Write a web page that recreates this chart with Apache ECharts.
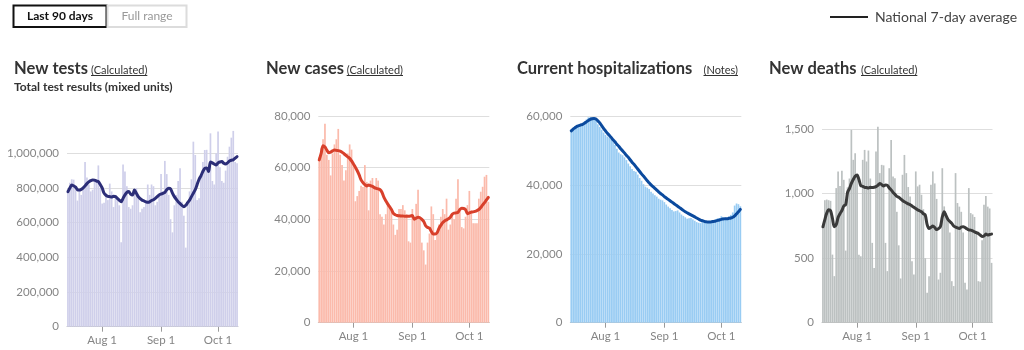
<!DOCTYPE html>
<html><head><meta charset="utf-8">
<script src="https://cdn.jsdelivr.net/npm/echarts@6/dist/echarts.min.js"></script>
<style>html,body{margin:0;padding:0;background:#fff}#c{width:1024px;height:350px}</style>
</head><body><div id="c"></div>
<script>
// ---------- DATA ----------
const firstDay = '2020-07-14';
const dayCount = 90;
const tickLabels = ['Aug 1', 'Sep 1', 'Oct 1'];

const testsDaily = [780000,830000,850000,848000,800000,727000,790000,
 760000,800000,950000,860000,820000,780000,790000,
 840000,850000,930000,800000,710000,715000,770000,
 730000,825000,780000,690000,760000,740000,700000,
 487000,935000,895000,810000,690000,680000,700000,
 790000,800000,760000,660000,680000,690000,720000,
 820000,760000,820000,810000,700000,720000,760000,
 880000,780000,956000,880000,760000,620000,544000,
 700000,760000,840000,913000,720000,640000,456000,
 720000,780000,850000,1067000,990000,730000,740000,
 860000,950000,1019000,1020000,900000,1115000,840000,
 820000,1000000,1125000,920000,840000,830000,900000,
 980000,1038000,1090000,1129000,950000,942000];
const testsAvg = [779000,800000,817000,812000,805000,790000,788000,
 792000,800000,812000,825000,835000,842000,846000,
 845000,840000,836000,820000,800000,770000,758000,
 752000,750000,748000,752000,750000,740000,730000,
 721000,740000,760000,775000,779000,765000,760000,
 788000,770000,750000,738000,730000,725000,720000,
 717000,720000,728000,732000,740000,750000,760000,
 765000,769000,775000,790000,798000,795000,770000,
 750000,735000,721000,710000,700000,692000,700000,
 715000,730000,750000,770000,790000,820000,850000,
 870000,895000,913000,915000,895000,950000,945000,
 938000,933000,945000,950000,952000,942000,938000,
 945000,955000,960000,962000,972000,981000];

const casesDaily = [64000,67500,71000,77000,65000,63000,57000,
 65500,69000,71000,75000,65000,61000,55000,
 59000,65500,69000,67000,61000,47000,49000,
 51000,53000,52500,61000,54500,43500,55000,
 56000,52500,56000,55000,42000,41000,38000,
 42000,46000,44500,43000,38000,34000,36000,
 44000,44000,45500,43500,42000,31500,31000,
 44000,40000,46000,51500,40000,31000,28000,
 22500,31000,34500,45000,42000,32000,35000,
 38000,41000,44000,42000,48000,36000,38000,
 42000,40000,48000,55500,43500,37000,36500,
 41000,45500,51000,43500,38500,38500,38500,
 48000,50700,52600,56500,57200,46800];
const casesAvg = [63000,65500,68500,68000,66800,65800,66000,
 66500,66800,66700,66600,66400,66000,65400,
 64800,64200,63600,62600,61400,60200,58800,
 57200,55300,54200,53400,52900,53300,53000,
 52800,52300,52000,51800,51500,50500,48600,
 47200,46000,44900,43800,42300,41800,41500,
 41400,41300,41300,41200,41200,41200,41300,
 41500,40000,40500,40800,40600,40000,39200,
 37500,36900,36600,35300,34300,34300,34800,
 36500,37700,38800,39400,39800,40200,40800,
 42000,42400,42500,42700,43800,44300,44200,
 43800,42200,42500,42800,42900,43100,43400,
 43800,44600,45600,46500,47500,48500];

const hospDaily = [55500,56200,57000,57300,57400,57200,57800,
 58400,59000,59600,59700,59600,59500,58900,
 57600,56800,56000,55200,54500,54000,53800,
 53300,52600,51600,50500,49400,48900,48600,
 48000,47200,46200,45400,44600,44000,43800,
 43000,42000,41200,40200,39500,39200,38800,
 38000,37500,37000,36600,36000,35700,35500,
 35000,34300,33700,33200,32700,32300,32400,
 32600,32000,31400,31000,30600,30200,30300,
 30400,30000,29600,29200,29000,28900,29200,
 29600,29500,29300,29500,29700,29700,30000,
 30300,30400,30900,30600,30500,30400,30800,
 31300,32000,34000,34600,34400,33800];
const hospAvg = [55700,56200,56600,57000,57200,57400,57600,
 57900,58300,58700,59000,59200,59300,59100,
 58600,58000,57200,56400,55700,55000,54400,
 53800,53100,52500,51800,51200,50500,49900,
 49300,48600,48000,47300,46600,46000,45300,
 44600,43900,43200,42600,41900,41200,40600,
 40000,39500,39000,38500,38000,37500,37100,
 36600,36200,35800,35400,35000,34600,34200,
 33800,33400,33000,32600,32200,31900,31600,
 31300,31000,30700,30400,30100,29800,29600,
 29400,29300,29200,29200,29300,29400,29500,
 29700,29800,30000,30100,30200,30200,30300,
 30400,30600,31000,31600,32200,32900];

const deathsDaily = [745,950,955,950,945,528,361,
 1044,1173,1060,1178,1108,559,1050,
 1118,1495,1263,1314,1150,526,515,
 1263,1340,1250,1335,1118,619,425,
 1327,1520,1160,1224,1220,619,400,
 1198,1417,1134,1121,860,600,343,
 1147,1301,1160,1052,979,477,374,
 1173,1057,1070,992,880,500,232,
 361,1070,1173,1080,960,335,387,
 1198,902,850,800,700,322,284,
 1160,928,900,860,700,309,258,
 1044,850,840,820,700,322,318,
 640,915,982,900,886,464];
const deathsAvg = [744,800,850,875,870,810,744,
 760,815,845,870,905,915,1010,
 1040,1080,1110,1135,1145,1110,1062,
 1058,1050,1048,1045,1050,1048,1050,
 1055,1065,1080,1070,1060,1068,1065,
 1045,1030,1010,995,980,972,960,
 948,938,930,922,915,905,895,
 885,875,868,860,845,835,760,
 730,740,750,738,722,730,745,
 820,860,830,800,785,770,750,
 742,735,731,742,745,738,728,
 720,718,712,705,698,692,680,
 668,672,687,680,684,687];

// ---------- CATEGORIES ----------
const monthNames = ['Jan','Feb','Mar','Apr','May','Jun','Jul','Aug','Sep','Oct','Nov','Dec'];
const categories = [];
{
  const d = new Date(firstDay + 'T12:00:00Z');
  for (let i = 0; i < dayCount; i++) {
    categories.push(monthNames[d.getUTCMonth()] + ' ' + d.getUTCDate());
    d.setUTCDate(d.getUTCDate() + 1);
  }
}
const tickIdx = new Set(tickLabels.map(t => categories.indexOf(t)));
const showTick = (i) => tickIdx.has(i);

// ---------- LAYOUT / STYLE ----------
const FONT = 'Lato, "Open Sans", sans-serif';
const panels = [
  { title: 'New tests', note: '(Calculated)', sub: 'Total test results (mixed units)',
    bars: testsDaily, avg: testsAvg, barColor: '#cfcfea', lineColor: '#2c2e78',
    max: 1140000, interval: 200000, hideMax: true,
    grid: { left: 67, top: 129, width: 171, height: 197.7 }, titleX: 14, noteX: 91 },
  { title: 'New cases', note: '(Calculated)',
    bars: casesDaily, avg: casesAvg, barColor: '#fbbaab', lineColor: '#d8402b',
    max: 80000, interval: 20000, hideMax: false,
    grid: { left: 318.3, top: 116, width: 171, height: 206.7 }, titleX: 266, noteX: 346.7 },
  { title: 'Current hospitalizations', note: '(Notes)',
    bars: hospDaily, avg: hospAvg, barColor: '#99ccf3', lineColor: '#0b4a9e',
    max: 60000, interval: 20000, hideMax: false,
    grid: { left: 570.3, top: 116, width: 171, height: 206.7 }, titleX: 517, noteX: 703.5 },
  { title: 'New deaths', note: '(Calculated)',
    bars: deathsDaily, avg: deathsAvg, barColor: '#bcc1c1', lineColor: '#3a3a3a',
    max: 1530, interval: 500, hideMax: true,
    grid: { left: 822, top: 125.4, width: 170.5, height: 197.3 }, titleX: 769, noteX: 861 }
];

const measureCtx = document.createElement('canvas').getContext('2d');
function textWidth(txt, font) { measureCtx.font = font; return measureCtx.measureText(txt).width; }

const grid = [], xAxis = [], yAxis = [], series = [], graphic = [];
panels.forEach((p, k) => {
  grid.push(Object.assign({ containLabel: false }, p.grid));
  xAxis.push({
    type: 'category', gridIndex: k, data: categories, boundaryGap: true,
    axisLine: { show: true, lineStyle: { color: '#c4c4c4', width: 1 } },
    axisTick: { show: true, alignWithLabel: true, interval: showTick, length: 5, lineStyle: { color: '#9a9a9a' } },
    axisLabel: { interval: showTick, color: '#858585', fontSize: 11.5, fontFamily: FONT, margin: 8 },
    splitLine: { show: false }
  });
  yAxis.push({
    type: 'value', gridIndex: k, min: 0, max: p.max, interval: p.interval,
    axisLine: { show: false }, axisTick: { show: false },
    axisLabel: { color: '#858585', fontSize: 11.5, fontFamily: FONT, margin: 8, showMaxLabel: !p.hideMax,
      formatter: v => (v % p.interval === 0 ? v.toLocaleString('en-US') : '') },
    splitLine: { show: true, showMaxLine: !p.hideMax, lineStyle: { color: '#dedede', width: 1 } }
  });
  series.push({
    type: 'bar', xAxisIndex: k, yAxisIndex: k, data: p.bars, barCategoryGap: '10%',
    itemStyle: { color: p.barColor }, emphasis: { disabled: true }, silent: true
  });
  series.push({
    type: 'line', xAxisIndex: k, yAxisIndex: k, data: p.avg, showSymbol: false, smooth: 0.3,
    lineStyle: { color: p.lineColor, width: 3, cap: 'round', join: 'round' }, z: 5, silent: true
  });
  // titles
  graphic.push({ type: 'text', left: p.titleX, top: 60, style: { text: p.title, font: 'bold 16.5px ' + FONT, fill: '#333' } });
  const noteFont = '11px ' + FONT;
  const nw = textWidth(p.note, noteFont);
  graphic.push({ type: 'text', left: p.noteX, top: 65, style: { text: p.note, font: noteFont, fill: '#333' } });
  graphic.push({ type: 'line', shape: { x1: p.noteX, y1: 75.5, x2: p.noteX + nw, y2: 75.5 }, style: { stroke: '#333', lineWidth: 1 } });
  if (p.sub) graphic.push({ type: 'text', left: p.titleX, top: 81, style: { text: p.sub, font: 'bold 12px ' + FONT, fill: '#333' } });
});

// buttons
graphic.push({ type: 'rect', shape: { x: 13.5, y: 5.5, width: 93, height: 21.5 }, style: { fill: '#fff', stroke: '#111', lineWidth: 2 } });
graphic.push({ type: 'rect', shape: { x: 107.5, y: 5.5, width: 79, height: 21.5 }, style: { fill: '#fff', stroke: '#dcdcdc', lineWidth: 2 } });
graphic.push({ type: 'text', x: 60, y: 16.5, style: { text: 'Last 90 days', font: 'bold 12px ' + FONT, fill: '#111', align: 'center', verticalAlign: 'middle' } });
graphic.push({ type: 'text', x: 147, y: 16.5, style: { text: 'Full range', font: '12px ' + FONT, fill: '#999', align: 'center', verticalAlign: 'middle' } });
// legend
graphic.push({ type: 'line', shape: { x1: 830, y1: 17, x2: 868, y2: 17 }, style: { stroke: '#222', lineWidth: 2 } });
graphic.push({ type: 'text', x: 875, y: 17, style: { text: 'National 7-day average', font: '14px ' + FONT, fill: '#444', verticalAlign: 'middle' } });

const chart = echarts.init(document.getElementById('c'), null, { renderer: 'canvas', width: 1024, height: 350 });
chart.setOption({ animation: false, backgroundColor: '#fff', grid, xAxis, yAxis, series, graphic });
</script></body></html>
